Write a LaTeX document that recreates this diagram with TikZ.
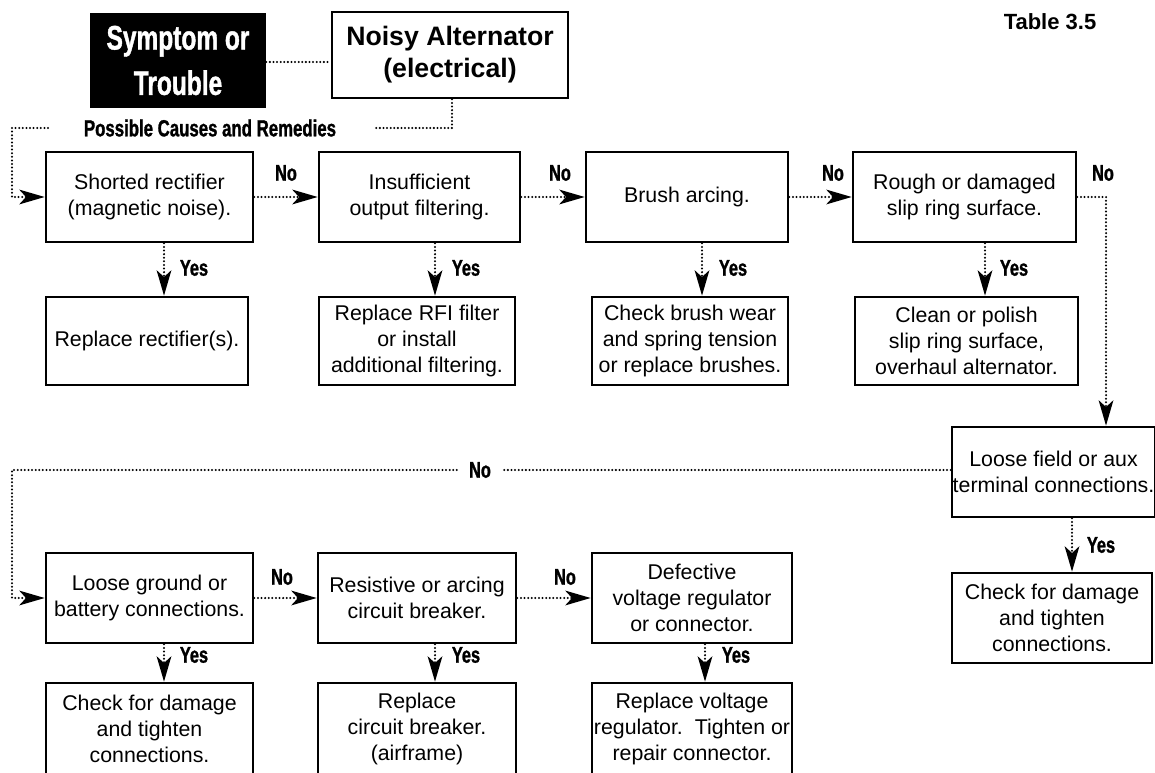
\documentclass[tikz,border=0pt]{standalone}
\usepackage{fontspec}
\setmainfont{Liberation Sans}
\newfontfamily\condfont[FakeStretch=0.72,FakeBold=1.2]{Liberation Sans}
\usetikzlibrary{arrows.meta}
\def\u{0.75pt}
\begin{document}
\begin{tikzpicture}[x=0.75pt,y=-0.75pt,
  box/.style={draw, line width=2pt, align=center, inner sep=0pt,
    font=\fontsize{16}{19.5}\selectfont},
  hbox/.style={box, font=\bfseries\fontsize{20}{24}\selectfont},
  symbox/.style={fill=black, text=white, align=center, inner sep=0pt,
    font=\condfont\bfseries\fontsize{25.5}{34}\selectfont},
  conn/.style={line width=1.7pt, line cap=round, dash pattern=on 0pt off 2.7pt},
  arr/.style={conn, -{Stealth[length=19pt,width=11pt,inset=5pt,line cap=butt]}},
  lbl/.style={font=\condfont\bfseries\fontsize{17}{17}\selectfont, inner sep=1pt},
  sz/.style 2 args={minimum width=#1*\u, minimum height=#2*\u}
]
\useasboundingbox (0,0) rectangle (1155,773);

% header
\node[symbox, sz={176}{95}] (sym) at (178,60.5) {Symptom or\\Trouble};
\node[hbox, sz={236}{86}] (noisy) at (450,55) {Noisy Alternator\\(electrical)};
\node[font=\bfseries\fontsize{16.5}{18}\selectfont] (table) at (1050,22) {Table 3.5};
\node[font=\condfont\bfseries\fontsize{17.5}{18}\selectfont] (pcr) at (210,128) {Possible Causes and Remedies};

% row 1 causes
\node[box, sz={207}{90}] (b1) at (149.5,197) {Shorted rectifier\\(magnetic noise).};
\node[box, sz={201}{90}] (b2) at (419.5,197) {Insufficient\\output filtering.};
\node[box, sz={202}{90}] (b3) at (687,197) {Brush arcing.};
\node[box, sz={223}{90}] (b4) at (964.5,197) {Rough or damaged\\slip ring surface.};

% row 2 remedies
\node[box, sz={202}{88}] (r1) at (147,341) {Replace rectifier(s).};
\node[box, sz={196}{88}] (r2) at (417,341) {Replace RFI filter\\or install\\additional filtering.};
\node[box, sz={196}{88}] (r3) at (690,341) {Check brush wear\\and spring tension\\or replace brushes.};
\node[box, sz={223}{88}] (r4) at (966.5,341) {Clean or polish\\slip ring surface,\\overhaul alternator.};

% right column
\node[box, sz={203}{90}] (lf) at (1053.5,472) {Loose field or aux\\terminal connections.};
\node[box, sz={200}{90}] (ck) at (1052,618) {Check for damage\\and tighten\\connections.};

% row 3 causes
\node[box, sz={207}{90}] (c1) at (149.5,598) {Loose ground or\\battery connections.};
\node[box, sz={198}{90}] (c2) at (417,598) {Resistive or arcing\\circuit breaker.};
\node[box, sz={200}{90}] (c3) at (692,598) {Defective\\voltage regulator\\or connector.};

% row 4 remedies
\node[box, sz={207}{92}] (d1) at (149.5,729) {Check for damage\\and tighten\\connections.};
\node[box, sz={198}{92}] (d2) at (417,729) {Replace\\circuit breaker.\\(airframe)};
\node[box, sz={200}{92}] (d3) at (692,729) {Replace voltage\\regulator.\ \ Tighten or\\repair connector.};

% coordinates
\coordinate (p1) at (373,128);
\coordinate (p2) at (48,128);
\coordinate (xl) at (12,0);
\coordinate (xr) at (1106,0);
\coordinate (y1) at (164,0);
\coordinate (y2) at (435,0);
\coordinate (y3) at (702,0);
\coordinate (y4) at (985,0);
\coordinate (y5) at (164,0);
\coordinate (y6) at (435,0);
\coordinate (y7) at (705,0);
\coordinate (y8) at (1072,0);

% header connectors
\draw[conn] (sym.east |- 0,62) -- (noisy.west |- 0,62);
\draw[conn] (noisy.south -| 452,0) -- (452,128) -- (p1);
\draw[arr] (p2) -- (xl |- p2) |- (b1.west);

% No arrows row 1
\draw[arr] (b1.east) -- (b2.west);
\draw[arr] (b2.east) -- (b3.west);
\draw[arr] (b3.east) -- (b4.west);
\draw[arr] (b4.east) -| (lf.north -| xr);
\node[lbl] (n1) at (286,173) {No};
\node[lbl] (n2) at (560,173) {No};
\node[lbl] (n3) at (833,173) {No};
\node[lbl] (n4) at (1103,173) {No};

% Yes arrows row 1
\draw[arr] (b1.south -| y1) -- (r1.north -| y1);
\draw[arr] (b2.south -| y2) -- (r2.north -| y2);
\draw[arr] (b3.south -| y3) -- (r3.north -| y3);
\draw[arr] (b4.south -| y4) -- (r4.north -| y4);
\node[lbl] (s1) at (194,268) {Yes};
\node[lbl] (s2) at (466,268) {Yes};
\node[lbl] (s3) at (733,268) {Yes};
\node[lbl] (s4) at (1014,268) {Yes};

% right column
\draw[arr] (lf.south -| y8) -- (ck.north -| y8);
\node[lbl] (s8) at (1101,545) {Yes};

% long No connector
\node[lbl, inner sep=0pt] (n5) at (480,470) {No};
\draw[conn] (lf.west |- n5) -- ([xshift=12*\u]n5.east);
\draw[arr] ([xshift=-12*\u]n5.west) -- (xl |- n5) |- (c1.west);

% row 3 connectors
\draw[arr] (c1.east) -- (c2.west);
\draw[arr] (c2.east) -- (c3.west);
\node[lbl] (n6) at (282,577) {No};
\node[lbl] (n7) at (565,577) {No};

\draw[arr] (c1.south -| y5) -- (d1.north -| y5);
\draw[arr] (c2.south -| y6) -- (d2.north -| y6);
\draw[arr] (c3.south -| y7) -- (d3.north -| y7);
\node[lbl] (s5) at (194,655) {Yes};
\node[lbl] (s6) at (466,655) {Yes};
\node[lbl] (s7) at (736,655) {Yes};
\end{tikzpicture}
\end{document}
